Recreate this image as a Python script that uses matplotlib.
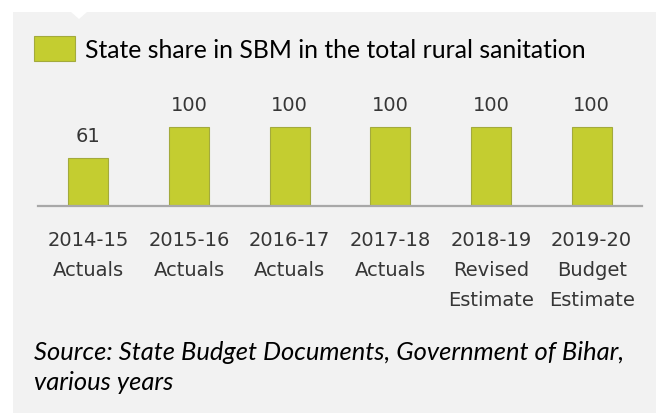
import matplotlib.pyplot as plt
from matplotlib.patches import Rectangle, Polygon

years = ["2014-15", "2015-16", "2016-17", "2017-18", "2018-19", "2019-20"]
stages = ["Actuals", "Actuals", "Actuals", "Actuals", "Revised\nEstimate", "Budget\nEstimate"]
state_share = [61, 100, 100, 100, 100, 100]

BAR_COLOR = "#c4cd30"
PANEL = "#f2f2f2"
LABEL_GREY = "#363636"
W, H = 656, 414

fig = plt.figure(figsize=(W / 100, H / 100), dpi=100, facecolor="white")

# grey panel with a small notch at the top
fig.patches.append(Rectangle((13 / W, 0), 1 - 13 / W, 1 - 13 / H, transform=fig.transFigure,
                             facecolor=PANEL, edgecolor="none", zorder=-3))
fig.patches.append(Polygon([(71 / W, 1 - 13 / H), (87 / W, 1 - 13 / H), (79 / W, 1 - 20 / H)],
                           closed=True, transform=fig.transFigure, facecolor="white",
                           edgecolor="none", zorder=-2))

ax_h = 110
ax = fig.add_axes([38 / W, (H - 207) / H, 604 / W, ax_h / H])
ax.set_facecolor("none")

x = list(range(len(years)))
bars = ax.bar(x, state_share, width=0.4, color=BAR_COLOR, edgecolor="#a3aa3c", linewidth=0.8,
              label="State share in SBM in the total rural sanitation", zorder=2)
for rect, v in zip(bars, state_share):
    ax.annotate(f"{v}", (rect.get_x() + rect.get_width() / 2, v), xytext=(0, 12),
                textcoords="offset points", ha="center", va="baseline",
                fontsize=14, color=LABEL_GREY, family="DejaVu Sans")

ax.set_xlim(-0.5, 5.5)
ax.set_ylim(0, 100 * ax_h / 79)
ax.set_yticks([])
ax.set_xticks(x)
ax.set_xticklabels([f"{y}\n{s}" for y, s in zip(years, stages)], fontsize=14,
                   color=LABEL_GREY, family="DejaVu Sans", linespacing=1.74, va="top")
ax.tick_params(axis="x", length=0, pad=17)
for side in ["top", "left", "right"]:
    ax.spines[side].set_visible(False)
ax.spines["bottom"].set_color("#a8a8a8")
ax.spines["bottom"].set_linewidth(1.6)

ax.legend(loc="upper left", bbox_to_anchor=(34 / W, 1 - 37 / H), bbox_transform=fig.transFigure,
          frameon=False, borderpad=0, borderaxespad=0, handlelength=41 / 24.7,
          handleheight=29 / 24.7, handletextpad=0.4, prop={"family": "Lato", "size": 17.8})

# va="baseline" anchors the last line of the note
fig.text(34 / W, 1 - 390 / H, "Source: State Budget Documents, Government of Bihar,\nvarious years",
         ha="left", va="baseline", fontsize=18.4, style="italic", family="Lato", color="black",
         linespacing=1.38)

fig.savefig("out.png", dpi=100, facecolor="white")
